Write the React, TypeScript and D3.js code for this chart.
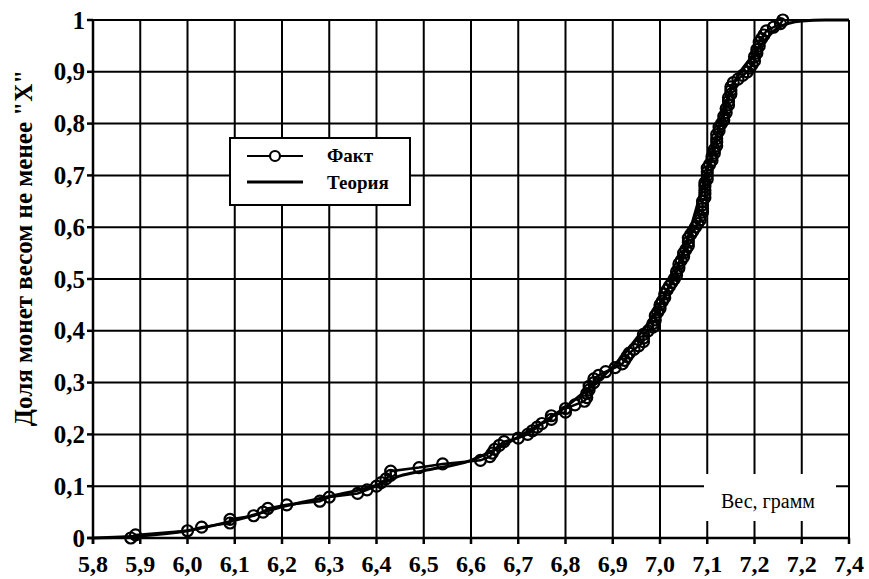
import React from "react";
import * as d3 from "d3";

const W = 869;
const H = 579;

const xTickValues = [5.8, 5.9, 6.0, 6.1, 6.2, 6.3, 6.4, 6.5, 6.6, 6.7, 6.8, 6.9, 7.0, 7.1, 7.2, 7.3, 7.4];
const xTickLabels = ["5,8", "5,9", "6,0", "6,1", "6,2", "6,3", "6,4", "6,5", "6,6", "6,7", "6,8", "6,9", "7,0", "7,1", "7,2", "7,2", "7,4"];
const yTickValues = [0, 0.1, 0.2, 0.3, 0.4, 0.5, 0.6, 0.7, 0.8, 0.9, 1.0];
const yTickLabels = ["0", "0,1", "0,2", "0,3", "0,4", "0,5", "0,6", "0,7", "0,8", "0,9", "1"];

const seriesNames = ["Факт", "Теория"];
const xTitle = "Вес, грамм";
const yTitle = "Доля монет весом не менее \"X\"";

// Fact (empirical) points: weight, share
const factX = [
  5.88, 5.89, 6.0, 6.03, 6.09, 6.09, 6.14, 6.16, 6.17, 6.21, 6.28, 6.3, 6.36, 6.38, 6.4, 6.41, 6.42, 6.43, 6.43, 6.49,
  6.54, 6.62, 6.64, 6.645, 6.65, 6.66, 6.67, 6.7, 6.72, 6.73, 6.74, 6.75, 6.77, 6.77, 6.8, 6.8, 6.82, 6.84, 6.845, 6.845,
  6.85, 6.85, 6.86, 6.86, 6.87, 6.885, 6.905, 6.92, 6.925, 6.93, 6.935, 6.945, 6.955, 6.965, 6.965, 6.965, 6.975, 6.985, 6.985, 6.99,
  6.99, 6.995, 7.0, 7.0, 7.005, 7.01, 7.01, 7.015, 7.02, 7.025, 7.03, 7.035, 7.035, 7.04, 7.04, 7.045, 7.05, 7.05, 7.055, 7.06,
  7.06, 7.06, 7.065, 7.07, 7.075, 7.08, 7.085, 7.085, 7.09, 7.09, 7.09, 7.09, 7.095, 7.095, 7.095, 7.095, 7.095, 7.1, 7.1, 7.1,
  7.1, 7.105, 7.11, 7.11, 7.115, 7.115, 7.12, 7.12, 7.12, 7.12, 7.125, 7.125, 7.13, 7.135, 7.135, 7.14, 7.14, 7.145, 7.145, 7.145,
  7.15, 7.15, 7.15, 7.155, 7.165, 7.175, 7.185, 7.19, 7.195, 7.2, 7.2, 7.205, 7.205, 7.21, 7.21, 7.215, 7.22, 7.225, 7.24, 7.255,
  7.26,
];
const factY = [
  0.0, 0.006, 0.014, 0.021, 0.029, 0.036, 0.043, 0.05, 0.057, 0.064, 0.071, 0.079, 0.086, 0.093, 0.1, 0.107, 0.114, 0.121, 0.129, 0.136,
  0.143, 0.15, 0.157, 0.164, 0.171, 0.179, 0.186, 0.193, 0.2, 0.207, 0.214, 0.221, 0.229, 0.236, 0.243, 0.25, 0.257, 0.264, 0.271, 0.279,
  0.286, 0.293, 0.3, 0.307, 0.314, 0.321, 0.329, 0.336, 0.343, 0.35, 0.357, 0.364, 0.371, 0.379, 0.386, 0.393, 0.4, 0.407, 0.414, 0.421,
  0.429, 0.436, 0.443, 0.45, 0.457, 0.464, 0.471, 0.479, 0.486, 0.493, 0.5, 0.507, 0.514, 0.521, 0.529, 0.536, 0.543, 0.55, 0.557, 0.564,
  0.571, 0.579, 0.586, 0.593, 0.6, 0.607, 0.614, 0.621, 0.629, 0.636, 0.643, 0.65, 0.657, 0.664, 0.671, 0.679, 0.686, 0.693, 0.7, 0.707,
  0.714, 0.721, 0.729, 0.736, 0.743, 0.75, 0.757, 0.764, 0.771, 0.779, 0.786, 0.793, 0.8, 0.807, 0.814, 0.821, 0.829, 0.836, 0.843, 0.85,
  0.857, 0.864, 0.871, 0.879, 0.886, 0.893, 0.9, 0.907, 0.914, 0.921, 0.929, 0.936, 0.943, 0.95, 0.957, 0.964, 0.971, 0.979, 0.986, 0.993,
  1.0,
];

// Theory (model) curve
const theoryX = [5.8, 5.9, 6.0, 6.1, 6.2, 6.3, 6.4, 6.45, 6.5, 6.6, 6.65, 6.7, 6.75, 6.8, 6.85, 6.9, 6.95, 7.0, 7.05, 7.1, 7.15, 7.2, 7.25, 7.3, 7.35, 7.4];
const theoryY = [0.0, 0.004, 0.014, 0.034, 0.06, 0.08, 0.102, 0.12, 0.13, 0.15, 0.17, 0.195, 0.222, 0.253, 0.29, 0.33, 0.385, 0.45, 0.555, 0.71, 0.865, 0.935, 0.985, 0.998, 1.0, 1.0];

const FONT = "Liberation Serif";

export default function App() {
  const x = d3.scaleLinear().domain([5.8, 7.4]).range([93, 849]);
  const y = d3.scaleLinear().domain([0, 1]).range([538, 20]);

  const fact = factX.map((v, i) => [v, factY[i]] as [number, number]);
  const theory = theoryX.map((v, i) => [v, theoryY[i]] as [number, number]);
  const line = d3
    .line<[number, number]>()
    .x((d) => x(d[0]))
    .y((d) => y(d[1]));
  const smooth = d3
    .line<[number, number]>()
    .x((d) => x(d[0]))
    .y((d) => y(d[1]))
    .curve(d3.curveMonotoneX);

  const x0 = x(5.8);
  const x1 = x(7.4);
  const y0 = y(0);
  const y1 = y(1);

  const bold = { fontFamily: FONT, fontWeight: 700 as const };

  return (
    <svg width={W} height={H} style={{ position: "absolute", left: 0, top: 0, background: "#fff" }}>
      <rect x={0} y={0} width={W} height={H} fill="#fff" />
      {/* grid */}
      {xTickValues.slice(1).map((v) => (
        <line key={"gx" + v} x1={x(v)} x2={x(v)} y1={y1} y2={y0} stroke="#000" strokeWidth={2} />
      ))}
      {yTickValues.slice(1).map((v) => (
        <line key={"gy" + v} x1={x0} x2={x1} y1={y(v)} y2={y(v)} stroke="#000" strokeWidth={2} />
      ))}
      {/* x title box */}
      <rect x={704} y={474} width={132} height={47} fill="#fff" />
      <text x={768} y={508} textAnchor="middle" style={{ fontFamily: FONT, fontSize: 20 }} fill="#000">
        {xTitle}
      </text>
      {/* axes */}
      <line x1={x0} x2={x0} y1={y1 - 1} y2={y0 + 6} stroke="#000" strokeWidth={2.5} />
      <line x1={x0 - 6} x2={x1 + 1} y1={y0} y2={y0} stroke="#000" strokeWidth={2.5} />
      {xTickValues.map((v) => (
        <line key={"tx" + v} x1={x(v)} x2={x(v)} y1={y0} y2={y0 + 6} stroke="#000" strokeWidth={2.5} />
      ))}
      {yTickValues.map((v) => (
        <line key={"ty" + v} x1={x0 - 6} x2={x0} y1={y(v)} y2={y(v)} stroke="#000" strokeWidth={2.5} />
      ))}
      {xTickValues.map((v, i) => (
        <text key={"lx" + v} x={x(v)} y={572} textAnchor="middle" style={{ ...bold, fontSize: 24 }} fill="#000">
          {xTickLabels[i]}
        </text>
      ))}
      {yTickValues.map((v, i) => (
        <text key={"ly" + v} x={85} y={y(v) + 8.5} textAnchor="end" style={{ ...bold, fontSize: 25 }} fill="#000">
          {yTickLabels[i]}
        </text>
      ))}
      <text
        transform={`translate(32,248) rotate(-90)`}
        textAnchor="middle"
        style={{ ...bold, fontSize: 25 }}
        fill="#000"
      >
        {yTitle}
      </text>
      {/* theory */}
      <path d={smooth(theory) || ""} fill="none" stroke="#000" strokeWidth={3} />
      {/* fact */}
      <path d={line(fact) || ""} fill="none" stroke="#000" strokeWidth={2.5} />
      {fact.map((d, i) => (
        <circle key={"c" + i} cx={x(d[0])} cy={y(d[1])} r={5.5} fill="none" stroke="#000" strokeWidth={2.2} />
      ))}
      {/* legend */}
      <rect x={230} y={138} width={180} height={67} fill="#fff" stroke="#000" strokeWidth={2} />
      <line x1={247} x2={303} y1={156} y2={156} stroke="#000" strokeWidth={2} />
      <circle cx={275} cy={156} r={5} fill="#fff" stroke="#000" strokeWidth={2.2} />
      <line x1={247} x2={303} y1={182} y2={182} stroke="#000" strokeWidth={3} />
      <text x={327} y={162} style={{ ...bold, fontSize: 19 }} fill="#000">
        {seriesNames[0]}
      </text>
      <text x={327} y={189} style={{ ...bold, fontSize: 19 }} fill="#000">
        {seriesNames[1]}
      </text>
    </svg>
  );
}
